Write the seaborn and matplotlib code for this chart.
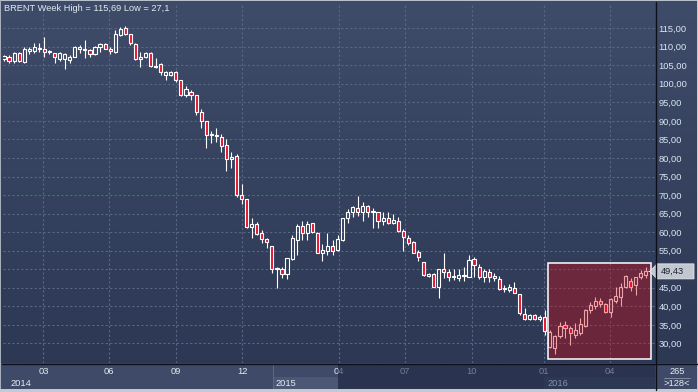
import numpy as np
import pandas as pd
import matplotlib
matplotlib.use("Agg")
import matplotlib.pyplot as plt
import seaborn as sns
from matplotlib.patches import Rectangle, Polygon
from matplotlib.colors import LinearSegmentedColormap

# ---------------- data (weekly OHLC, Brent) ----------------
opens = [106.6, 107.3, 106.2, 108.2, 106.0, 108.8, 108.9, 109.7, 109.3, 108.5,
         108.4, 106.7, 106.6, 106.4, 107.3, 109.5, 109.5, 109.1, 108.0, 109.8,
         110.6, 109.5, 108.6, 113.1, 114.9, 113.4, 110.7, 106.7, 107.3, 108.4,
         104.6, 105.3, 102.4, 102.4, 103.3, 101.0, 97.1, 97.8, 97.0, 92.3,
         90.05, 86.1, 86.0, 85.7, 83.4, 79.6, 80.5, 70.0, 68.85, 61.3,
         62.1, 59.9, 58.1, 56.3, 50.0, 50.0, 48.6, 52.7, 57.9, 61.7,
         59.9, 62.4, 59.9, 54.5, 55.0, 56.3, 55.2, 57.9, 63.7, 65.3,
         66.4, 65.3, 67.1, 65.3, 65.3, 63.1, 63.7, 62.6, 63.0, 60.3,
         58.5, 57.3, 54.75, 51.9, 48.3, 48.6, 45.3, 50.0, 49.2, 47.8,
         47.6, 48.2, 48.0, 52.8, 50.7, 48.0, 49.3, 47.6, 47.5, 44.6,
         44.5, 44.9, 43.3, 37.9, 36.5, 37.8, 36.5, 37.2, 28.95, 28.7,
         32.0, 35.0, 34.1, 32.3, 32.9, 34.7, 39.0, 40.1, 41.5, 40.6,
         38.6, 41.5, 42.6, 45.1, 46.9, 45.8, 47.8, 48.5]
highs = [107.7, 107.7, 108.6, 108.6, 109.8, 110.0, 111.1, 111.1, 112.5, 109.1,
         108.4, 108.6, 108.4, 107.7, 110.2, 110.4, 111.8, 109.3, 110.2, 111.1,
         110.9, 110.0, 114.5, 115.3, 115.69, 113.4, 110.9, 108.6, 108.6, 108.6,
         106.9, 105.5, 103.5, 103.5, 103.4, 101.0, 99.4, 98.3, 97.1, 93.1,
         90.05, 87.3, 88.0, 86.4, 85.0, 81.5, 81.1, 73.0, 68.85, 63.7,
         62.8, 60.6, 58.5, 56.3, 50.5, 50.5, 52.95, 59.2, 62.1, 63.0,
         63.0, 62.6, 60.1, 56.7, 59.9, 57.9, 59.2, 63.9, 66.2, 67.1,
         69.8, 68.0, 67.3, 66.4, 65.5, 65.3, 65.5, 64.9, 64.0, 60.8,
         59.2, 57.6, 55.2, 52.05, 48.9, 48.9, 50.0, 54.5, 50.2, 50.2,
         50.0, 50.7, 53.8, 53.4, 51.3, 50.2, 50.0, 49.0, 48.2, 45.8,
         46.0, 46.6, 43.3, 39.5, 38.0, 38.0, 37.7, 39.0, 33.6, 32.3,
         35.9, 36.1, 34.7, 35.6, 36.8, 39.2, 41.3, 42.4, 42.2, 41.0,
         42.2, 45.1, 46.2, 48.5, 47.6, 48.0, 49.8, 50.7]
lows = [106.2, 105.5, 105.5, 106.0, 105.5, 108.0, 108.4, 108.6, 107.3, 108.0,
        105.5, 106.2, 103.9, 105.5, 107.1, 108.2, 106.9, 107.1, 107.7, 108.6,
        109.3, 108.0, 108.4, 112.9, 113.1, 110.4, 106.4, 104.4, 106.9, 104.6,
        104.2, 102.4, 101.0, 102.1, 100.6, 96.7, 96.5, 95.6, 91.6, 88.0,
        82.6, 84.1, 84.4, 81.7, 76.6, 77.4, 69.6, 67.6, 61.2, 58.3,
        59.2, 57.2, 55.8, 48.9, 45.0, 47.7, 47.4, 52.5, 53.9, 57.9,
        57.9, 59.7, 54.3, 52.2, 53.9, 53.9, 55.0, 57.6, 62.4, 64.0,
        64.4, 63.1, 64.2, 61.2, 61.0, 61.9, 62.1, 62.1, 60.1, 55.0,
        56.5, 54.3, 52.3, 48.3, 48.0, 45.1, 42.2, 47.7, 46.8, 47.1,
        46.7, 46.9, 47.8, 48.0, 47.3, 46.6, 46.6, 46.9, 44.4, 44.0,
        43.9, 43.5, 37.8, 36.3, 36.2, 36.3, 36.0, 32.3, 28.7, 27.1,
        31.4, 31.6, 29.6, 31.6, 32.3, 34.5, 38.3, 39.2, 39.7, 38.3,
        37.2, 41.0, 40.1, 44.9, 44.2, 43.1, 47.3, 47.6]
closes = [107.5, 106.2, 108.4, 106.2, 109.5, 109.3, 109.8, 109.3, 108.5, 108.8,
          107.1, 108.2, 108.0, 107.1, 110.0, 110.0, 109.1, 108.0, 110.0, 110.6,
          109.5, 108.8, 113.4, 114.7, 113.3, 110.9, 106.6, 107.1, 108.4, 104.8,
          104.8, 103.3, 103.3, 103.3, 101.0, 97.1, 98.5, 97.0, 92.4, 90.0,
          86.2, 86.5, 86.3, 83.2, 79.6, 80.3, 69.9, 68.85, 61.5, 62.1,
          59.4, 58.1, 57.4, 50.0, 50.2, 48.6, 52.95, 58.3, 61.7, 59.9,
          62.2, 60.0, 54.5, 55.2, 56.3, 55.0, 58.1, 63.7, 65.3, 66.7,
          65.3, 67.1, 65.5, 65.6, 63.1, 63.7, 62.4, 63.3, 60.4, 58.6,
          57.0, 54.5, 53.4, 48.5, 48.6, 45.3, 50.0, 49.2, 48.0, 48.2,
          48.5, 48.4, 52.5, 51.2, 48.0, 49.6, 47.8, 48.3, 44.6, 44.9,
          45.3, 43.7, 38.1, 36.5, 37.8, 36.5, 37.2, 33.4, 33.2, 32.0,
          34.7, 34.1, 32.7, 33.6, 35.2, 39.0, 40.4, 41.5, 40.6, 38.6,
          41.9, 42.8, 45.1, 48.2, 45.1, 47.8, 48.9, 49.43]

month_pos = [7.8, 20.8, 34.0, 47.1, 66.3, 79.3, 92.5, 106.8, 119.9]
month_labels = ["03", "06", "09", "12", "04", "07", "10", "01", "04"]
y_ticks = list(range(30, 120, 5))
hidden_tick = 50          # covered by the last-price marker in the original
title = "BRENT Week High = 115,69 Low = 27,1"

df = pd.DataFrame({"o": opens, "h": highs, "l": lows, "c": closes})
df["x"] = np.arange(len(df))
df["top"] = df[["o", "c"]].max(axis=1)
df["bot"] = df[["o", "c"]].min(axis=1)
df["up"] = df["c"] >= df["o"]

# ---------------- style ----------------
sns.set_style("dark")
plt.rcParams['font.family'] = ['Liberation Sans', 'DejaVu Sans']
FS = 6.7
W, H = 698, 392
BG_TOP, BG_BOT = "#3f4c69", "#2c3854"
RED = "#e5112e"
TXT = "#dde5f2"

fig = plt.figure(figsize=(W / 100, H / 100), dpi=100)
fig.patch.set_facecolor("#3d4966")

# background layer in pixel coordinates
bg = fig.add_axes([0, 0, 1, 1], zorder=0)
bg.set_axis_off()
grad = np.linspace(0, 1, 256)[:, None]
cmap = LinearSegmentedColormap.from_list("g", [BG_TOP, BG_BOT])
bg.imshow(grad, extent=[0, W, 363, 0], cmap=cmap, aspect="auto", interpolation="bilinear")
bg.add_patch(Rectangle((0, 363), W, 29, color="#3e4a67", lw=0))
bg.add_patch(Rectangle((272.5, 376.5), 65.5, 12.5, color="#4b5774", lw=0))
bg.add_patch(Rectangle((544, 376.5), 111, 12.5, color="#46526f", lw=0))
bg.plot([272.5, 272.5], [364, 389], color="#5a6682", lw=0.8)
bg.set_xlim(0, W)
bg.set_ylim(H, 0)

# main axes
ax = fig.add_axes([3 / W, (H - 363) / H, (655 - 3) / W, 360 / H], zorder=1)
ax.patch.set_alpha(0)
for s in ax.spines.values():
    s.set_visible(False)
ax.set_xlim(-0.2, 128.8)
ax.set_ylim(24.73, 121.77)

ax.set_axisbelow(True)
ax.grid(True, color="#5a6784", linestyle=(0, (2, 2)), linewidth=0.8)

# wicks (split so hollow bodies stay hollow)
ax.vlines(df["x"], df["top"], df["h"], color="white", lw=0.8, zorder=2)
ax.vlines(df["x"], df["l"], df["bot"], color="white", lw=0.8, zorder=2)
# bodies
heights = np.maximum(df["top"] - df["bot"], 0.3)
up = df[df["up"]]
dn = df[~df["up"]]
ax.bar(up["x"], heights[df["up"]], bottom=up["bot"], width=0.62,
       facecolor="none", edgecolor="white", linewidth=0.8, zorder=3)
ax.bar(dn["x"], heights[~df["up"]], bottom=dn["bot"], width=0.62,
       facecolor=RED, edgecolor="white", linewidth=0.8, zorder=3)

# highlighted zone
hx0, hx1, hy0, hy1 = 107.6, 128.05, 25.8, 51.8
ax.add_patch(Rectangle((hx0, hy0), hx1 - hx0, hy1 - hy0, facecolor=(0.85, 0.02, 0.06),
                       alpha=0.36, lw=0, zorder=5))
ax.add_patch(Rectangle((hx0, hy0), hx1 - hx0, hy1 - hy0, facecolor="none",
                       edgecolor="white", lw=1.1, zorder=6))
ax.hlines(closes[-1], 127.4, 128.8, color="white", lw=0.8, zorder=6)

ax.set_yticks(y_ticks, ["" if v == hidden_tick else f"{v:.2f}".replace(".", ",")
                        for v in y_ticks])
ax.yaxis.tick_right()
ax.set_xticks(month_pos, month_labels)
ax.tick_params(axis="y", length=0, pad=2.6, labelsize=FS, labelcolor=TXT)
ax.tick_params(axis="x", length=0, pad=3.0, labelsize=FS, labelcolor="#e6ebf3")
for lab in ax.get_yticklabels():
    lab.set_horizontalalignment("left")

# overlay layer in pixel coordinates
ov = fig.add_axes([0, 0, 1, 1], zorder=3)
ov.set_axis_off()
ov.patch.set_alpha(0)
ov.set_xlim(0, W)
ov.set_ylim(H, 0)
# dim scroll region over the time axis
ov.add_patch(Rectangle((338, 364), 317, 25, color="#1a2340", alpha=0.55, lw=0))
# year labels
ov.text(11, 383, "2014", fontsize=FS, color="#e6ebf3", va="center", ha="left")
ov.text(276, 383, "2015", fontsize=FS, color="#e6ebf3", va="center", ha="left")
ov.text(548, 383, "2016", fontsize=FS, color="#8390aa", va="center", ha="left")
# corner box
ov.add_patch(Rectangle((656, 364), 40, 25, color="#3e4a67", lw=0))
ov.text(677, 372, "265", fontsize=FS, color="#e6ebf3", va="center", ha="center")
ov.text(677, 384, ">128<", fontsize=FS, color="#e6ebf3", va="center", ha="center")
ov.plot([664, 690], [378, 378], color="#8a94a8", lw=0.6)
# separator lines
ov.plot([655.5, 655.5], [2, 390], color="#0d1018", lw=1.0)
ov.plot([2, W], [363.5, 363.5], color="#0d1018", lw=1.0)
# title
ov.text(4, 8.5, title, fontsize=FS, color="#e2e8f2", va="center", ha="left")

# last price marker, placed through the main axes' data transform
fig.canvas.draw()
py = H - ax.transData.transform((0, closes[-1]))[1]
ov.add_patch(Polygon([(650, py), (657, py - 7.5), (694, py - 7.5), (694, py + 7.5), (657, py + 7.5)],
                     closed=True, facecolor="#c3c8d0", edgecolor="#e4e7ec", lw=0.6))
ov.text(661, py, f"{closes[-1]:.2f}".replace(".", ","), fontsize=FS, color="#1a2030",
        va="center", ha="left")

# outer frame
ov.add_patch(Rectangle((0, 0), W, 1.2, color="#b8c0cc", lw=0))
ov.add_patch(Rectangle((0, 0), 1.3, H, color="#a8b0be", lw=0))
ov.add_patch(Rectangle((0, 389.3), W, 2.7, color="#c4cad4", lw=0))
ov.add_patch(Rectangle((696.5, 0), 1.5, H, color="#c4cad4", lw=0))

fig.savefig("out.png", dpi=100)
